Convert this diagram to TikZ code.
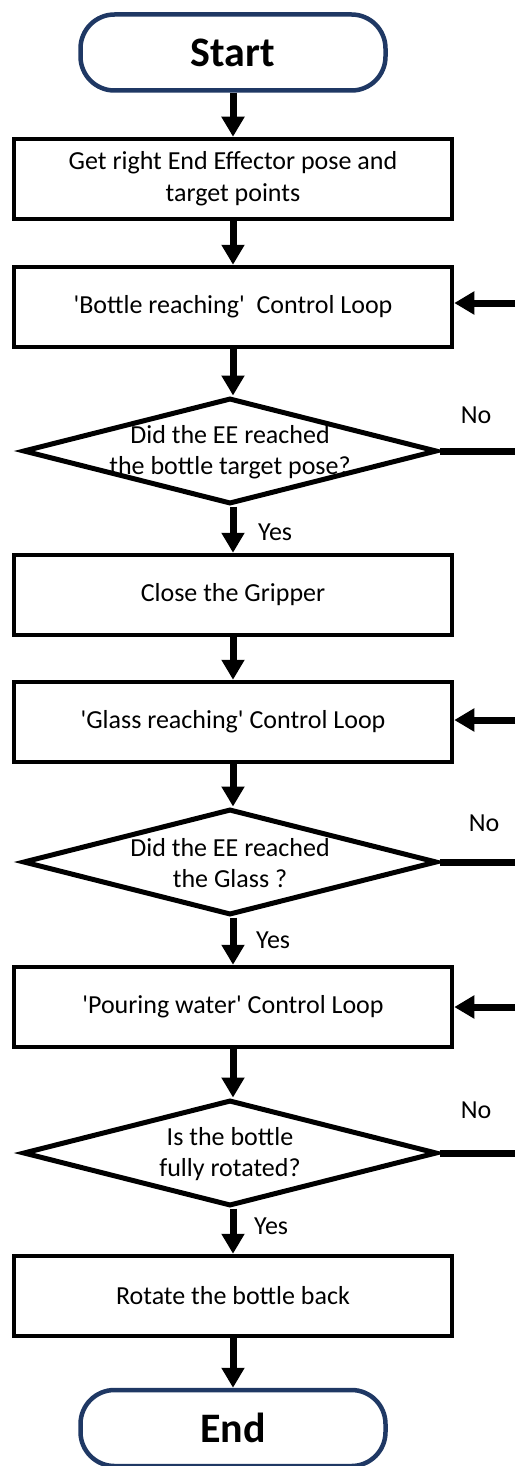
\documentclass[tikz,border=0pt]{standalone}
\usepackage{fontspec}
\setmainfont{Carlito}
% a second Carlito family without TeX ligature mapping, so ' stays straight
\newfontfamily\flowfont{Carlito}
\usetikzlibrary{arrows.meta,shapes.geometric}
\definecolor{navy}{HTML}{1F3864}
\begin{document}
\begin{tikzpicture}[x=1pt,y=1pt,
  term/.style={draw=navy, line width=4.5pt, rounded corners=34pt,
    minimum width=305pt, minimum height=76pt, inner sep=0pt,
    font=\flowfont\fontsize{42}{50}\selectfont\bfseries},
  procbox/.style={draw, line width=4.5pt, minimum width=438pt,
    minimum height=80pt, inner sep=0pt, align=center,
    font=\flowfont\fontsize{26}{32}\selectfont},
  decide/.style={draw, diamond, line width=5pt, minimum width=414pt,
    minimum height=106pt, inner sep=0pt},
  qtext/.style={align=center, inner sep=0pt, font=\flowfont\fontsize{26}{31}\selectfont},
  lbl/.style={inner sep=0pt, font=\flowfont\fontsize{26}{31}\selectfont},
  flow/.style={line width=7pt, -{Triangle[length=20pt,width=22pt]}},
  back/.style={line width=7pt},
]
\useasboundingbox (0,0) rectangle (515,-1466);

% main column
\node[term] (start) at (233,-52.5) {Start};
\node[procbox] (b1) at (233,-179) {Get right End Effector pose and\\target points};
\node[procbox] (b2) at (233,-307) {'Bottle reaching'\ \ Control Loop};
\node[decide] (d1) at (230,-451) {};
\node[qtext] (d1t) at (230,-452) {Did the EE reached\\the bottle target pose?};
\node[procbox] (b3) at (233,-595) {Close the Gripper};
\node[procbox] (b4) at (233,-722) {'Glass reaching' Control Loop};
\node[decide] (d2) at (230,-862) {};
\node[qtext] (d2t) at (230,-863) {Did the EE reached\\the Glass ?};
\node[procbox] (b5) at (233,-1007) {'Pouring water' Control Loop};
\node[decide] (d3) at (230,-1153) {};
\node[qtext] (d3t) at (230,-1154) {Is the bottle\\fully rotated?};
\node[procbox] (b6) at (233,-1296) {Rotate the bottle back};
\node[term] (end) at (233,-1428) {End};

% downward flow
\draw[flow] (start.south) -- (b1.north);
\draw[flow] (b1.south) -- (b2.north);
\draw[flow] (b2.south) -- (b2.south |- d1.north);
\draw[flow] (d1.south -| b3.north) -- (b3.north);
\draw[flow] (b3.south) -- (b4.north);
\draw[flow] (b4.south) -- (b4.south |- d2.north);
\draw[flow] (d2.south -| b5.north) -- (b5.north);
\draw[flow] (b5.south) -- (b5.south |- d3.north);
\draw[flow] (d3.south -| b6.north) -- (b6.north);
\draw[flow] (b6.south) -- (end.north);

% branch labels
\node[lbl, anchor=west] (y1) at (258,-532) {Yes};
\node[lbl, anchor=west] (y2) at (256,-940) {Yes};
\node[lbl, anchor=west] (y3) at (254,-1226) {Yes};
\node[lbl] (n1) at (476,-415) {No};
\node[lbl] (n2) at (484,-823) {No};
\node[lbl] (n3) at (476,-1110) {No};

% loop-back leads at the right margin
\coordinate (o1) at (515,-451);
\coordinate (o2) at (515,-862);
\coordinate (o3) at (515,-1153);
\coordinate (i1) at (515,-303);
\coordinate (i2) at (515,-720);
\coordinate (i3) at (515,-1007);
\draw[back] (d1.east) -- (o1);
\draw[back] (d2.east) -- (o2);
\draw[back] (d3.east) -- (o3);
\draw[flow] (i1) -- (i1 -| b2.east);
\draw[flow] (i2) -- (i2 -| b4.east);
\draw[flow] (i3) -- (i3 -| b5.east);
\end{tikzpicture}
\end{document}
